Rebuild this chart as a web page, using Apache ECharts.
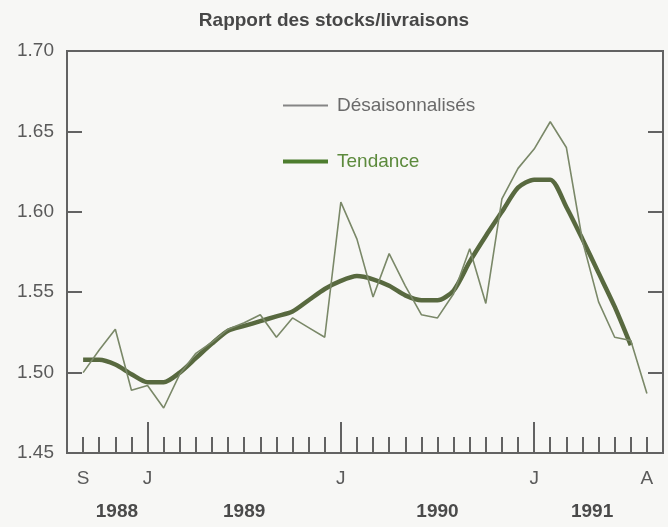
<!DOCTYPE html>
<html>
<head>
<meta charset="utf-8">
<script src="https://cdn.jsdelivr.net/npm/echarts@6/dist/echarts.min.js"></script>
<style>
html,body{margin:0;padding:0;background:#f7f7f5;}
#chart{width:668px;height:527px;}
</style>
</head>
<body>
<div id="chart"></div>
<script>
// Months, Sep 1988 .. Aug 1991
const months = [
  '1988-09','1988-10','1988-11','1988-12',
  '1989-01','1989-02','1989-03','1989-04','1989-05','1989-06','1989-07','1989-08','1989-09','1989-10','1989-11','1989-12',
  '1990-01','1990-02','1990-03','1990-04','1990-05','1990-06','1990-07','1990-08','1990-09','1990-10','1990-11','1990-12',
  '1991-01','1991-02','1991-03','1991-04','1991-05','1991-06','1991-07','1991-08'
];
const desaisonnalises = [
  1.500,1.514,1.527,1.489,
  1.492,1.478,1.499,1.512,1.519,1.527,1.531,1.536,1.522,1.534,1.528,1.522,
  1.606,1.583,1.547,1.574,1.554,1.536,1.534,1.549,1.577,1.543,1.608,1.627,
  1.639,1.656,1.640,1.582,1.544,1.522,1.520,1.487
];
const tendance = [
  1.508,1.508,1.505,1.499,
  1.494,1.494,1.500,1.509,1.518,1.526,1.529,1.532,1.535,1.538,1.545,1.552,
  1.557,1.560,1.558,1.554,1.548,1.545,1.545,1.551,1.569,1.585,1.600,1.615,
  1.620,1.620,1.603,1.583,1.562,1.541,1.517,null
];
// tick labels
const monthLabelMonths = ['1988-09','1989-01','1990-01','1991-01','1991-08'];
const monthLabelTexts = ['S','J','J','J','A'];
const yearLabels = ['1988','1989','1990','1991'];
const yearLabelPos = [3.1, 11.0, 23.0, 32.6]; // centred under each year span (month index units)

// x position: month index, axis starts one month before the first month
const xOf = m => months.indexOf(m) + 1;
const tickVals = months.map(xOf);
const majorVals = months.filter(m => m.endsWith('-01')).map(xOf);
const labelVals = monthLabelMonths.map(xOf);
const labelMap = {}; labelVals.forEach((v, i) => labelMap[v] = monthLabelTexts[i]);
const yearMap = {}; yearLabelPos.forEach((v, i) => yearMap[v] = yearLabels[i]);

const axisColor = '#626262';
const textColor = '#5a5a5a';
const FONT = 'Liberation Sans, Arial, Helvetica, sans-serif';

const baseX = {
  type: 'value', min: 0, max: 37, position: 'bottom',
  splitLine: { show: false },
  axisLine: { show: true, onZero: false, lineStyle: { color: axisColor, width: 2 } },
};
const baseY = {
  type: 'value', min: 1.45, max: 1.70, interval: 0.05,
  splitLine: { show: false },
  axisLine: { show: true, onZero: false, lineStyle: { color: axisColor, width: 2 } },
  axisTick: { show: true, inside: true, length: 15, lineStyle: { color: axisColor, width: 2 } }
};

const legendText = { fontFamily: FONT, fontSize: 19, padding: [0, 0, 0, 4] };

const chart = echarts.init(document.getElementById('chart'), null, { renderer: 'canvas' });
chart.setOption({
  backgroundColor: '#f7f7f5',
  animation: false,
  title: {
    text: 'Rapport des stocks/livraisons',
    left: 'center', top: 6,
    textStyle: { fontFamily: FONT, fontSize: 19, fontWeight: 'bold', color: '#474747' }
  },
  legend: [
    {
      left: 278, top: 91, icon: 'rect', itemWidth: 45, itemHeight: 2,
      textStyle: Object.assign({}, legendText, { color: '#6a6a6a' }),
      itemStyle: { color: '#858585' },
      data: ['Désaisonnalisés']
    },
    {
      left: 278, top: 147, icon: 'rect', itemWidth: 45, itemHeight: 4,
      textStyle: Object.assign({}, legendText, { color: '#5c8a3c' }),
      itemStyle: { color: '#4d7d2e' },
      data: ['Tendance']
    }
  ],
  grid: { left: 67, right: 5, top: 51, bottom: 74, show: true, borderColor: axisColor, borderWidth: 2, backgroundColor: 'transparent' },
  xAxis: [
    Object.assign({}, baseX, {
      axisTick: { show: true, inside: true, length: 16, lineStyle: { color: axisColor, width: 2 }, customValues: tickVals },
      axisLabel: { show: true, margin: 16, customValues: labelVals, formatter: v => labelMap[v] || '',
        fontFamily: FONT, fontSize: 19, color: textColor }
    }),
    Object.assign({}, baseX, {
      axisTick: { show: true, inside: true, length: 31, lineStyle: { color: axisColor, width: 2 }, customValues: majorVals },
      axisLabel: { show: true, margin: 49, customValues: yearLabelPos, formatter: v => yearMap[v] || '',
        fontFamily: FONT, fontSize: 19, fontWeight: 'bold', color: '#4a4a4a' }
    })
  ],
  yAxis: [
    Object.assign({}, baseY, {
      position: 'left',
      axisLabel: { margin: 13, formatter: v => v.toFixed(2), fontFamily: FONT, fontSize: 19, color: textColor }
    }),
    Object.assign({}, baseY, {
      position: 'right',
      axisLabel: { show: false }
    })
  ],
  series: [
    {
      name: 'Désaisonnalisés', type: 'line', xAxisIndex: 0, yAxisIndex: 0,
      showSymbol: false, symbol: 'none',
      lineStyle: { color: '#7a8868', width: 1.6 },
      itemStyle: { color: '#858585' },
      data: months.map((m, i) => [xOf(m), desaisonnalises[i]]),
      z: 3
    },
    {
      name: 'Tendance', type: 'line', xAxisIndex: 0, yAxisIndex: 0,
      showSymbol: false, symbol: 'none', smooth: 0.25, connectNulls: false,
      lineStyle: { color: '#58693f', width: 4.5 },
      itemStyle: { color: '#4d7d2e' },
      data: months.map((m, i) => [xOf(m), tendance[i]]),
      z: 2
    }
  ]
});
</script>
</body>
</html>
